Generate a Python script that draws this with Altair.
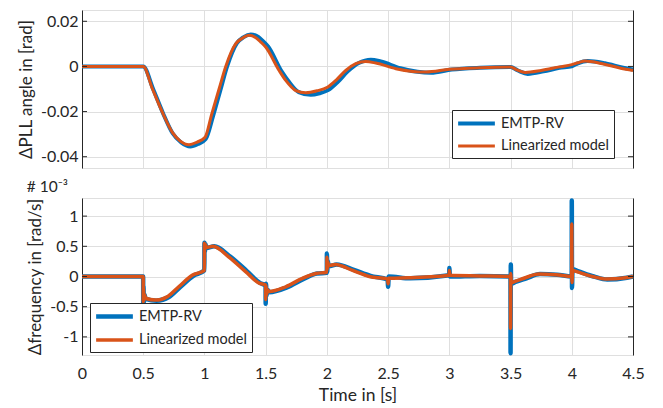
import altair as alt
import pandas as pd

# ---------------- data ----------------
series = ["EMTP-RV", "Linearized model"]
colors = ["#0072BD", "#D95319"]

x_ticks = [0, 0.5, 1, 1.5, 2, 2.5, 3, 3.5, 4, 4.5]
y_ticks_top = [-0.04, -0.02, 0, 0.02]
y_ticks_bot = [-1, -0.5, 0, 0.5, 1]

# PLL angle deviation [rad]
t_top_lin = [0, 0.5, 0.575, 0.656, 0.738, 0.80, 0.874, 0.94, 1.005, 1.06, 1.12, 1.174,
             1.256, 1.31, 1.364, 1.42, 1.46, 1.50, 1.61, 1.664, 1.746, 1.827, 1.92, 2.004,
             2.08, 2.154, 2.236, 2.318, 2.40, 2.563, 2.70, 2.81, 3.0, 3.25, 3.5, 3.55,
             3.62, 3.75, 3.9, 4.0, 4.05, 4.11, 4.25, 4.4, 4.5]
v_top_lin = [0, 0, -0.0099, -0.0203, -0.0292, -0.0330, -0.0347, -0.0335, -0.0314, -0.021,
             -0.0099, 0.0, 0.0101, 0.0125, 0.0138, 0.0127, 0.0108, 0.0086, -0.0018, -0.0062,
             -0.0107, -0.0117, -0.0108, -0.0092, -0.0058, -0.0018, 0.0012, 0.0022, 0.0015,
             -0.0010, -0.0022, -0.0025, -0.0013, -0.0006, -0.0003, -0.0015, -0.0027,
             -0.0018, -0.0002, 0.0008, 0.0016, 0.0024, 0.0012, -0.0008, -0.0018]

t_top_emtp = [0, 0.5, 0.58, 0.66, 0.74, 0.81, 0.885, 0.95, 1.01, 1.07, 1.13, 1.185,
              1.265, 1.32, 1.378, 1.44, 1.48, 1.52, 1.63, 1.69, 1.77, 1.868, 1.94, 2.01,
              2.09, 2.17, 2.26, 2.359, 2.44, 2.60, 2.74, 2.85, 3.02, 3.25, 3.5, 3.56,
              3.64, 3.77, 3.9, 4.0, 4.05, 4.13, 4.27, 4.42, 4.5]
v_top_emtp = [0, 0, -0.0099, -0.0205, -0.0296, -0.0337, -0.0355, -0.0343, -0.0322, -0.022,
              -0.0105, 0.0, 0.0103, 0.0130, 0.0142, 0.0131, 0.0111, 0.0088, -0.0022, -0.0068,
              -0.0114, -0.0126, -0.0119, -0.0105, -0.0068, -0.0022, 0.0015, 0.0030, 0.0022,
              -0.0008, -0.0024, -0.0028, -0.0014, -0.0006, -0.0003, -0.0018, -0.0033,
              -0.0022, -0.0006, 0.0001, 0.0014, 0.0024, 0.0014, -0.0006, -0.0014]

# frequency deviation [rad/s] x 1e-3
t_bot_lin = [0, 0.4995, 0.5, 0.502, 0.505, 0.51, 0.52, 0.6, 0.7, 0.79, 0.90, 0.9995,
             1.0, 1.004, 1.008, 1.015, 1.07, 1.2, 1.336, 1.446, 1.4995, 1.5, 1.503, 1.507,
             1.515, 1.528, 1.664, 1.8, 1.91, 1.9995, 2.0, 2.003, 2.007, 2.015, 2.07, 2.21,
             2.346, 2.496, 2.5, 2.505, 2.67, 2.9995, 3.0, 3.005, 3.25, 3.4995, 3.5, 3.502,
             3.505, 3.537, 3.62, 3.73, 3.87, 3.9995, 4.0, 4.002, 4.006, 4.04, 4.17, 4.28,
             4.44, 4.5]
v_bot_lin = [0, 0, -0.42, -0.2, -0.40, -0.30, -0.36, -0.39, -0.33, -0.17, 0.02, 0.10,
             0.55, 0.45, 0.53, 0.48, 0.50, 0.32, 0.08, -0.11, -0.14, -0.38, -0.15, -0.30,
             -0.22, -0.25, -0.17, -0.03, 0.05, 0.07, 0.32, 0.12, 0.24, 0.18, 0.20, 0.10,
             0.0, -0.04, -0.12, -0.03, -0.02, 0.02, 0.10, 0.02, 0.01, 0.0, -0.86, 0.05,
             -0.10, -0.08, -0.02, 0.04, 0.03, 0.0, 0.87, -0.10, 0.10, 0.08, 0.0, -0.04,
             -0.02, 0.0]

t_bot_emtp = [0, 0.4995, 0.5, 0.502, 0.505, 0.51, 0.52, 0.61, 0.71, 0.80, 0.91, 0.9995,
              1.0, 1.004, 1.008, 1.015, 1.08, 1.21, 1.346, 1.456, 1.4995, 1.5, 1.503, 1.507,
              1.515, 1.53, 1.674, 1.81, 1.92, 1.9995, 2.0, 2.003, 2.007, 2.015, 2.08, 2.22,
              2.356, 2.496, 2.5, 2.505, 2.68, 2.9995, 3.0, 3.005, 3.25, 3.4995, 3.5, 3.502,
              3.505, 3.54, 3.63, 3.74, 3.88, 3.9995, 4.0, 4.002, 4.006, 4.05, 4.18, 4.29,
              4.45, 4.5]
v_bot_emtp = [0, 0, -0.47, -0.15, -0.42, -0.30, -0.37, -0.40, -0.34, -0.18, 0.01, 0.10,
              0.56, 0.42, 0.54, 0.47, 0.50, 0.33, 0.09, -0.11, -0.15, -0.45, -0.12, -0.32,
              -0.22, -0.26, -0.18, -0.04, 0.05, 0.06, 0.38, 0.08, 0.26, 0.17, 0.20, 0.11,
              0.01, -0.05, -0.17, 0.0, -0.03, 0.02, 0.14, 0.0, 0.01, 0.0, -1.27, 0.20,
              -0.12, -0.09, -0.03, 0.04, 0.03, 0.0, 1.26, -0.19, 0.12, 0.09, 0.0, -0.05,
              -0.02, 0.0]


def make_df(t1, v1, t2, v2):
    a = pd.DataFrame({"t": t1, "v": v1, "series": series[0]})
    b = pd.DataFrame({"t": t2, "v": v2, "series": series[1]})
    a["i"] = range(len(a))
    b["i"] = range(len(b))
    return pd.concat([a, b], ignore_index=True)


df_top = make_df(t_top_emtp, v_top_emtp, t_top_lin, v_top_lin)
df_bot = make_df(t_bot_emtp, v_bot_emtp, t_bot_lin, v_bot_lin)

# ---------------- style ----------------
W, H_TOP, H_BOT = 551, 158, 157
DARK = "#262626"
GRID = "#dfdfdf"
FONT = "Lato"
TICK_LEN = 5

top_domain = [-0.045, 0.025]
bot_domain = [-1.3, 1.3]


def legend(x, y):
    return alt.Legend(
        title=None, orient="none", legendX=x, legendY=y,
        symbolType="M-3,0H3", symbolSize=150, symbolStrokeWidth=3.5,
        symbolOffset=11, labelOffset=16, padding=5, rowPadding=6,
        strokeColor=DARK, fillColor="white", cornerRadius=0,
        labelFont=FONT, labelFontSize=14.5, labelColor=DARK, labelLimit=300,
    )


def panel(df, domain, yticks, ytitle, lab_expr, leg, bottom, height, title=None):
    xaxis = alt.Axis(
        values=x_ticks, grid=True, gridColor=GRID, domainColor=GRID, ticks=False,
        labels=bottom, title="Time in [s]" if bottom else None, labelFlush=False,
        labelExpr="format(datum.value, '~g')", labelPadding=10, titlePadding=5,
        titleFontSize=17.5,
    )
    yscale = alt.Scale(domain=domain, nice=False, zero=False)
    yaxis = alt.Axis(
        values=yticks, grid=True, gridColor=GRID, domainColor=DARK, ticks=False,
        labelExpr=lab_expr, labelPadding=4, title=ytitle, titlePadding=5)
    lines = alt.Chart(df).mark_line(
        interpolate="monotone", strokeJoin="round", strokeCap="butt"
    ).encode(
        x=alt.X("t:Q", scale=alt.Scale(domain=[0, 4.5], nice=False), axis=xaxis),
        y=alt.Y("v:Q", scale=yscale, axis=yaxis),
        color=alt.Color("series:N", scale=alt.Scale(domain=series, range=colors), legend=leg),
        strokeWidth=alt.StrokeWidth("series:O", scale=alt.Scale(domain=series,
                                    range=[4.5, 3.5] if bottom else [4, 3]), legend=None),
        order="i:Q",
    )
    tick_df = pd.DataFrame({"y": yticks})
    lticks = alt.Chart(tick_df).mark_rule(color=DARK, strokeWidth=1).encode(
        y=alt.Y("y:Q", scale=yscale, axis=yaxis),
        x=alt.value(0), x2=alt.value(TICK_LEN),
    )
    rticks = alt.Chart(tick_df).mark_rule(color=DARK, strokeWidth=1).encode(
        y=alt.Y("y:Q", scale=yscale, axis=alt.Axis(
            orient="right", labels=False, ticks=False, grid=False,
            domainColor=DARK, title=None)),
        x=alt.value(W - TICK_LEN), x2=alt.value(W),
    )
    ch = alt.layer(alt.layer(lines, lticks), rticks).resolve_scale(y="independent")
    props = dict(width=W, height=height)
    if title is not None:
        props["title"] = title
    return ch.properties(**props)


top = panel(
    df_top, top_domain, y_ticks_top, "ΔPLL angle in [rad]",
    "datum.value == 0 ? '0' : replace(format(datum.value, '.2f'), '\u2212', '-')",
    legend(370, 100), False, H_TOP,
)
bot = panel(
    df_bot, bot_domain, y_ticks_bot, "Δfrequency in [rad/s]",
    "replace(format(datum.value, '~g'), '\u2212', '-')",
    legend(8, 105), True, H_BOT,
    title=alt.TitleParams(text="# 10⁻³", anchor="start", fontSize=15.5, font=FONT,
                          fontWeight="normal", color=DARK, offset=3),
)

chart = alt.vconcat(top, bot, spacing=10).resolve_scale(
    color="independent", strokeWidth="independent"
).resolve_legend(color="independent").properties(
    padding={"left": 16, "top": 9, "right": 5, "bottom": 2},
    background="white",
).configure_view(stroke=GRID).configure_axis(
    labelFont=FONT, labelFontSize=16, labelColor=DARK,
    titleFont=FONT, titleFontSize=17, titleFontWeight="normal", titleColor=DARK,
)

chart.save("out.html", embed_options={"renderer": "svg", "actions": False})
